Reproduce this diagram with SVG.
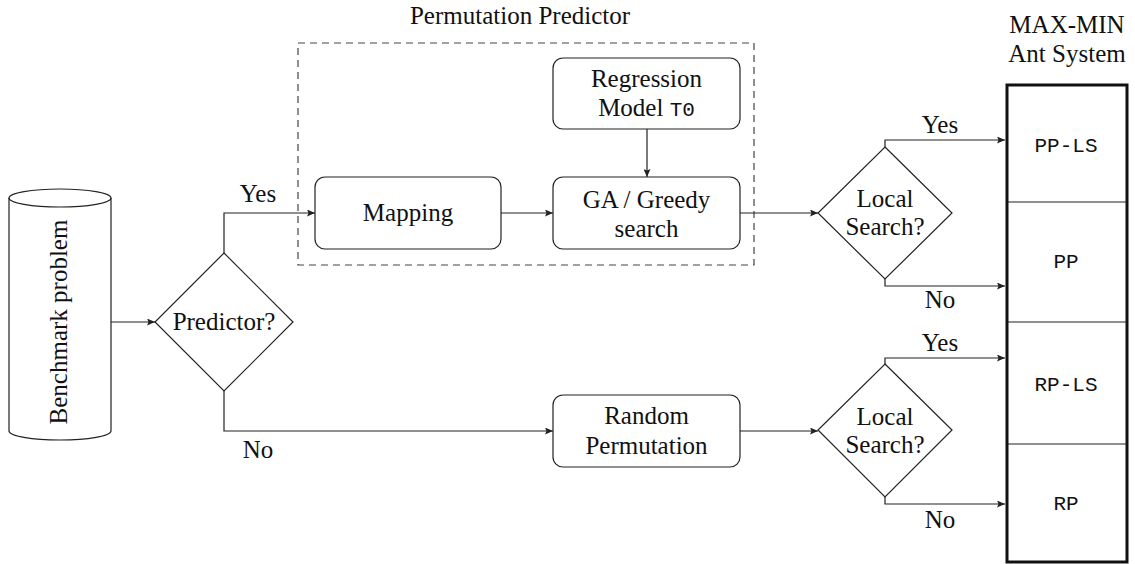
<svg xmlns="http://www.w3.org/2000/svg" width="1135" height="564" viewBox="0 0 1135 564">
<style>
.s{font-family:'Liberation Serif','DejaVu Serif',serif;font-size:25px;fill:#111;text-anchor:middle}
.m{font-family:'Liberation Mono','DejaVu Sans Mono',monospace;font-size:21px;fill:#111;text-anchor:middle}
.box{fill:#fff;stroke:#222;stroke-width:1.2}
.ln{fill:none;stroke:#222;stroke-width:1.2}
.c{fill:none;stroke:#222;stroke-width:1.2;marker-end:url(#ah)}
</style>
<defs>
<marker id="ah" markerUnits="userSpaceOnUse" markerWidth="9" markerHeight="7" refX="8" refY="3.5" orient="auto">
<path d="M0,0 L8,3.5 L0,7 L1.5,3.5 z" fill="#222"/>
</marker>
</defs>
<rect x="0" y="0" width="1135" height="564" fill="#fff"/>

<g id="permutation-predictor">
<rect x="298" y="43" width="456" height="222" fill="none" stroke="#444" stroke-width="1.2" stroke-dasharray="7,5"/>
<text class="s" x="520" y="24">Permutation Predictor</text>
</g>

<g id="benchmark">
<path class="box" d="M9,198 V431 A51,9 0 0 0 111,431 V198"/>
<ellipse class="box" cx="60" cy="198" rx="51" ry="9"/>
<text class="s" transform="translate(67,322) rotate(-90)" x="0" y="0">Benchmark problem</text>
</g>

<g id="predictor-decision">
<polygon class="box" points="224,253 293,322 224,391 155,322"/>
<text class="s" x="224" y="330">Predictor?</text>
</g>

<g id="mapping">
<rect class="box" x="315" y="177" width="186" height="72" rx="10"/>
<text class="s" x="408" y="221">Mapping</text>
</g>

<g id="regression">
<rect class="box" x="553" y="58" width="187" height="71" rx="10"/>
<text class="s" x="646.5" y="87">Regression</text>
<text class="s" x="646.5" y="116">Model <tspan class="m">T0</tspan></text>
</g>

<g id="ga-greedy">
<rect class="box" x="553" y="177" width="187" height="72" rx="10"/>
<text class="s" x="646.5" y="208">GA / Greedy</text>
<text class="s" x="646.5" y="237">search</text>
</g>

<g id="random-permutation">
<rect class="box" x="553" y="395" width="187" height="72" rx="10"/>
<text class="s" x="646.5" y="424">Random</text>
<text class="s" x="646.5" y="454">Permutation</text>
</g>

<g id="local-search-1">
<polygon class="box" points="885,147 952,213 885,279 818,213"/>
<text class="s" x="885" y="207">Local</text>
<text class="s" x="885" y="235">Search?</text>
</g>

<g id="local-search-2">
<polygon class="box" points="885,364 952,430 885,497 818,430"/>
<text class="s" x="885" y="425">Local</text>
<text class="s" x="885" y="453">Search?</text>
</g>

<g id="ant-system">
<text class="s" x="1067" y="33">MAX-MIN</text>
<text class="s" x="1067" y="62">Ant System</text>
<rect x="1007" y="85" width="120" height="477" fill="#fff" stroke="#111" stroke-width="3"/>
<line class="ln" x1="1008" y1="202" x2="1126" y2="202"/>
<line class="ln" x1="1008" y1="322" x2="1126" y2="322"/>
<line class="ln" x1="1008" y1="444" x2="1126" y2="444"/>
<text class="m" x="1066" y="152">PP-LS</text>
<text class="m" x="1066" y="268">PP</text>
<text class="m" x="1066" y="391">RP-LS</text>
<text class="m" x="1066" y="510">RP</text>
</g>

<g id="connectors">
<path class="c" d="M111,322 H155"/>
<path class="c" d="M224,253 V213 H315"/>
<path class="c" d="M224,391 V431 H553"/>
<path class="c" d="M501,213 H553"/>
<path class="c" d="M647,129 V177"/>
<path class="c" d="M740,213 H818"/>
<path class="c" d="M885,147 V140 H1005"/>
<path class="c" d="M885,279 V286 H1005"/>
<path class="c" d="M740,431 H818"/>
<path class="c" d="M885,364 V358 H1005"/>
<path class="c" d="M885,497 V504 H1005"/>
<text class="s" x="258" y="202">Yes</text>
<text class="s" x="258" y="458">No</text>
<text class="s" x="940" y="133">Yes</text>
<text class="s" x="940" y="308">No</text>
<text class="s" x="940" y="351">Yes</text>
<text class="s" x="940" y="528">No</text>
</g>
</svg>
